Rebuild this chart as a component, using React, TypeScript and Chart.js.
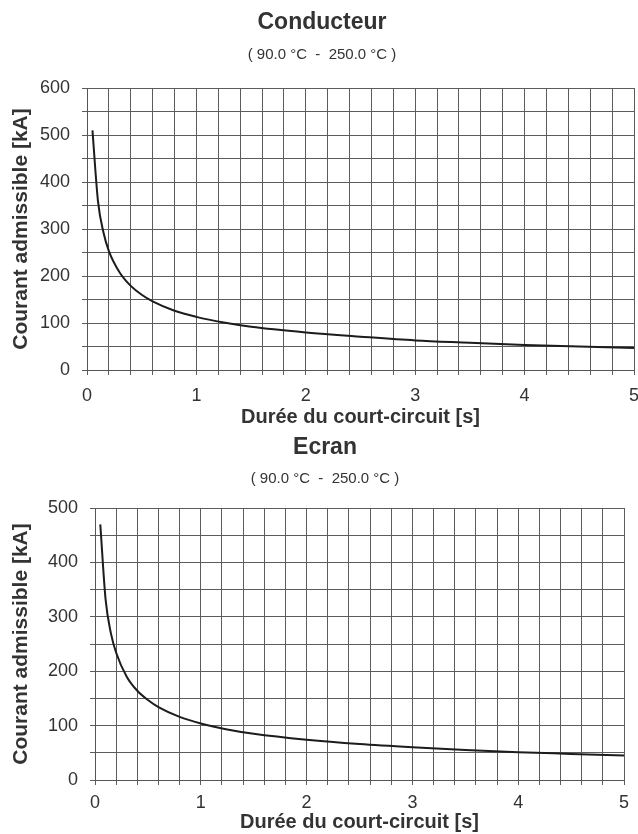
import React, { useEffect, useRef } from 'react';
import { Chart, registerables } from 'chart.js';

Chart.register(...registerables);

// ---- data ----
const durations = [0.05, 0.1, 0.15, 0.2, 0.3, 0.4, 0.5, 0.6, 0.8, 1, 1.25, 1.5, 2, 2.5, 3, 3.5, 4, 4.5, 5];
const conducteurKA = [510, 360, 293, 253, 207, 179, 160, 146, 126, 113, 101, 92, 80, 71, 63, 58, 53, 50, 47];
const ecranKA = [470, 332, 270, 234, 190, 164, 147, 134, 116, 104, 93, 85, 74, 66, 60, 55, 51, 48, 45];

const xTickLabels = ['0', '1', '2', '3', '4', '5'];
const conducteurYTickLabels = ['0', '100', '200', '300', '400', '500', '600'];
const ecranYTickLabels = ['0', '100', '200', '300', '400', '500'];

const SUBTITLE = '( 90.0 °C  -  250.0 °C )';
const X_TITLE = 'Durée du court-circuit [s]';
const Y_TITLE = 'Courant admissible [kA]';
const FONT = '"Liberation Sans", Arial, sans-serif';

type Spec = {
  title: string;
  values: number[];
  yTickLabels: string[];
  yMax: number;
  width: number;
  height: number;
  padLeft: number;
  padRight: number;
  titleTop: number;
  subTop: number;
  subBottom: number;
  yAxisWidth: number;
  yTitlePad: number;
  xAxisHeight: number;
  xTickPad: number;
  xTitleBottom: number;
};

function makeChart(canvas: HTMLCanvasElement, s: Spec) {
  const points = durations.map((t, i) => ({ x: t, y: s.values[i] }));
  return new Chart(canvas, {
    type: 'scatter',
    data: {
      datasets: [
        {
          data: points,
          showLine: true,
          borderColor: '#1c1c1c',
          borderWidth: 2,
          pointRadius: 0,
          cubicInterpolationMode: 'monotone',
          fill: false,
        } as any,
      ],
    },
    options: {
      responsive: false,
      animation: false,
      devicePixelRatio: 1,
      layout: { padding: { left: s.padLeft, right: s.padRight, top: 0, bottom: 0 } },
      plugins: {
        legend: { display: false },
        tooltip: { enabled: false },
        title: {
          display: true,
          text: s.title,
          color: '#333',
          font: { family: FONT, size: 23, weight: 'bold' },
          padding: { top: s.titleTop, bottom: 0 },
        },
        subtitle: {
          display: true,
          text: SUBTITLE,
          color: '#333',
          font: { family: FONT, size: 15 },
          padding: { top: s.subTop, bottom: s.subBottom },
        },
      },
      scales: {
        x: {
          type: 'linear',
          min: 0,
          max: 5,
          ticks: {
            stepSize: 0.2,
            autoSkip: false,
            maxRotation: 0,
            padding: s.xTickPad,
            color: '#333',
            font: { family: FONT, size: 18 },
            callback: (v: any) => {
              const n = Number(v);
              const r = Math.round(n);
              return Math.abs(n - r) < 1e-6 ? xTickLabels[r] : '';
            },
          },
          grid: { color: '#5c5c5c', lineWidth: 1, tickLength: 5, drawTicks: true },
          border: { color: '#555', width: 1 },
          title: {
            display: true,
            text: X_TITLE,
            color: '#333',
            font: { family: FONT, size: 20, weight: 'bold', lineHeight: 1.2 },
            padding: { top: 0, bottom: s.xTitleBottom },
          },
          afterFit: (scale: any) => {
            scale.height = s.xAxisHeight;
            scale.paddingLeft = 0;
            scale.paddingRight = 0;
          },
        },
        y: {
          type: 'linear',
          min: 0,
          max: s.yMax,
          ticks: {
            stepSize: 50,
            autoSkip: false,
            padding: 12,
            color: '#333',
            font: { family: FONT, size: 18 },
            callback: (v: any) => {
              const n = Math.round(Number(v));
              return n % 100 === 0 ? s.yTickLabels[n / 100] : '';
            },
          },
          grid: { color: '#5c5c5c', lineWidth: 1, tickLength: 5, drawTicks: true },
          border: { color: '#555', width: 1 },
          title: {
            display: true,
            text: Y_TITLE,
            color: '#333',
            font: { family: FONT, size: 21, weight: 'bold', lineHeight: 1 },
            padding: { top: s.yTitlePad, bottom: 0 },
          },
          afterFit: (scale: any) => {
            scale.width = s.yAxisWidth;
          },
        },
      },
    } as any,
  });
}

const topSpec: Spec = {
  title: 'Conducteur',
  values: conducteurKA,
  yTickLabels: conducteurYTickLabels,
  yMax: 600,
  width: 638,
  height: 430,
  padLeft: 10,
  padRight: 4,
  titleTop: 9.2,
  subTop: 9.2,
  subBottom: 24,
  yAxisWidth: 77,
  yTitlePad: 0.5,
  xAxisHeight: 60,
  xTickPad: 10,
  xTitleBottom: 1,
};

const bottomSpec: Spec = {
  title: 'Ecran',
  values: ecranKA,
  yTickLabels: ecranYTickLabels,
  yMax: 500,
  width: 638,
  height: 404,
  padLeft: 26,
  padRight: 14,
  titleTop: 4.2,
  subTop: 8.2,
  subBottom: 20,
  yAxisWidth: 69,
  yTitlePad: -15.5,
  xAxisHeight: 54,
  xTickPad: 7,
  xTitleBottom: 0,
};

function ChartCanvas({ spec, top }: { spec: Spec; top: number }) {
  const ref = useRef<HTMLCanvasElement | null>(null);
  useEffect(() => {
    if (!ref.current) return;
    const chart = makeChart(ref.current, spec);
    return () => chart.destroy();
  }, [spec]);
  return (
    <canvas
      ref={ref}
      width={spec.width}
      height={spec.height}
      style={{ position: 'absolute', left: 0, top, width: spec.width, height: spec.height }}
    />
  );
}

export default function App() {
  return (
    <div style={{ position: 'absolute', left: 0, top: 0, width: 638, height: 834, background: '#fff' }}>
      <ChartCanvas spec={topSpec} top={0} />
      <ChartCanvas spec={bottomSpec} top={430} />
    </div>
  );
}
